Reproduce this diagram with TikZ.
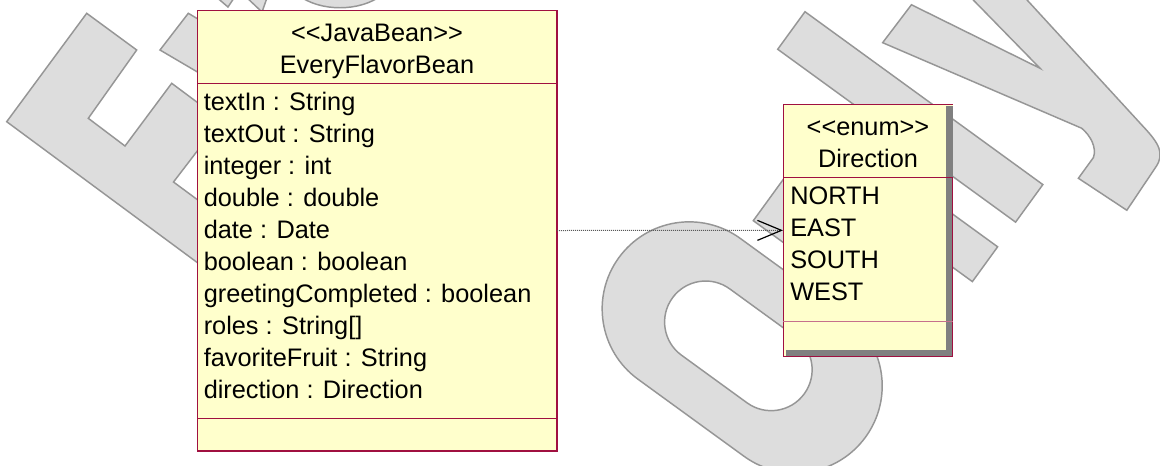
\documentclass[tikz,border=0pt]{standalone}
\usepackage{fontspec}
\setmainfont{Liberation Sans}
\usetikzlibrary{arrows.meta}
\definecolor{umlfill}{RGB}{255,255,204}
\definecolor{umledge}{RGB}{160,16,64}
\definecolor{shadegray}{RGB}{128,128,128}
\definecolor{markfill}{RGB}{221,221,221}
\definecolor{markedge}{RGB}{150,150,150}
\newcommand\umlfont{\fontsize{19pt}{24pt}\selectfont}
\tikzset{
  wmark/.style={fill=markfill, draw=markedge, line width=1.1pt, line join=miter},
  classbox/.style={rectangle, draw=umledge, fill=umlfill, line width=0.75pt, inner sep=0pt, outer sep=0pt},
  rule/.style={draw=umledge, line width=0.75pt},
  attr/.style={anchor=base west, inner sep=0pt, font=\umlfont},
  head/.style={anchor=base, inner sep=0pt, font=\umlfont},
  dep/.style={draw=black!65, line width=0.75pt, dash pattern=on 0.75pt off 0.75pt,
    -{Straight Barb[length=18pt, width=15pt, line width=0.9pt, color=black]}},
  % rotated lettering frame: origin on the baseline of the lower word
  letterframe/.style={shift={(985,264.2)}, x={(0.441pt,0.6068pt)}, y={(-0.6068pt,0.441pt)}},
}
\begin{document}
\begin{tikzpicture}[x=0.75pt, y=-0.75pt]
\useasboundingbox (0,0) rectangle (1160,465);
\fill[white] (0,0) rectangle (1160,465);

% background watermark lettering
\begin{scope}
\clip (0,0) rectangle (1160,465);
% upper word: E and v
\path[wmark] (6.7,121.7) -- (86.7,13.3) -- (136.7,50) -- (88.3,118.3) -- (125,146)
  -- (171.7,83.3) -- (221,120) -- (173.5,182) -- (210,209) -- (270,180) -- (229,286) -- cycle;
\path[wmark] (160,50) -- (188.3,13.3) -- (240,43.8) -- (240,97) -- cycle;
% slivers along the top edge
\path[wmark] (214,-5) -- (236,-5) -- (228,7) -- cycle;
\path[wmark] (244,-5) -- (268,-5) -- (262,12) -- cycle;
\path[wmark] (298,-5) .. controls (320,12) and (360,12) .. (382,-5) -- cycle;
% lower word, drawn in its own rotated frame
\begin{scope}[letterframe]
  % O
  \path[wmark, even odd rule]
    (-297,213) -- (-297,82) arc (180:360:87) -- (-123,213) arc (0:180:87) -- cycle
    (-252,192) -- (-252,111) arc (180:360:41) -- (-170,192) arc (0:180:41) -- cycle;
  % n
  \path[wmark] (-101,0) -- (-101,213) -- (-40,213) .. controls (0,220) and (21.5,200) .. (21.5,160)
    -- (21.5,0) -- (-21.5,0) -- (-21.5,150) -- (-58,160) -- (-58,0) -- cycle;
  % l
  \path[wmark] (52,0) -- (98.4,0) -- (98.4,294) -- (52,294) -- cycle;
  % y
  \path[wmark] (119,213) -- (166.6,212) -- (190.8,70.7) -- (215,213) -- (257,213)
    -- (204.3,-47.2) .. controls (200,-70) and (195,-80) .. (180,-81) -- (127,-83)
    -- (124.4,-25) -- (150,-25) .. controls (160,-22) and (166,-10) .. (166.8,1.7) -- cycle;
\end{scope}
\end{scope}

% class EveryFlavorBean
\node[classbox, minimum width=270pt, minimum height=330.75pt] (bean) at (377,230.5) {};
\draw[umledge, line width=0.75pt] (556,11) -- (556,450) -- (198,450);
\draw[rule] (bean.west |- 0,83.5) -- (bean.east |- 0,83.5);
\draw[rule] (bean.west |- 0,418) -- (bean.east |- 0,418);
\node[head] (beanst) at (377,41) {<{}<JavaBean>{}>};
\node[head] (beanname) at (377,73) {EveryFlavorBean};
\node[attr] (a1) at (203.5,110) {textIn : String};
\node[attr] (a2) at (203.5,142) {textOut : String};
\node[attr] (a3) at (203.5,174) {integer : int};
\node[attr] (a4) at (203.5,206) {double : double};
\node[attr] (a5) at (203.5,238) {date : Date};
\node[attr] (a6) at (203.5,270) {boolean : boolean};
\node[attr] (a7) at (203.5,302) {greetingCompleted : boolean};
\node[attr] (a8) at (203.5,334) {roles : String[]};
\node[attr] (a9) at (203.5,366) {favoriteFruit : String};
\node[attr] (a10) at (203.5,398) {direction : Direction};

% enum Direction, with its drop shadow
\node[rectangle, fill=umlfill, inner sep=0pt, outer sep=0pt,
  minimum width=127.3pt, minimum height=189.5pt] (dir) at (867.85,230.35) {};
\fill[shadegray] (946,106) rectangle (952.7,356.7);
\fill[shadegray] (786,350) rectangle (952.7,356.7);
\draw[rule] (952.7,104) -- (783,104) -- (783,356.7) -- (952.7,356.7) -- (952.7,177);
\draw[rule] (783,177) -- (952.7,177);
\draw[rule, draw=umledge!60] (783,321) -- (952.7,321);
\node[head] (dirst) at (868,135) {<{}<enum>{}>};
\node[head] (dirname) at (868,167) {Direction};
\node[attr] (e1) at (790,204) {NORTH};
\node[attr] (e2) at (790,236) {EAST};
\node[attr] (e3) at (790,268) {SOUTH};
\node[attr] (e4) at (790,300) {WEST};

% dependency
\draw[dep] (bean.east) -- (dir.west);
\end{tikzpicture}
\end{document}
